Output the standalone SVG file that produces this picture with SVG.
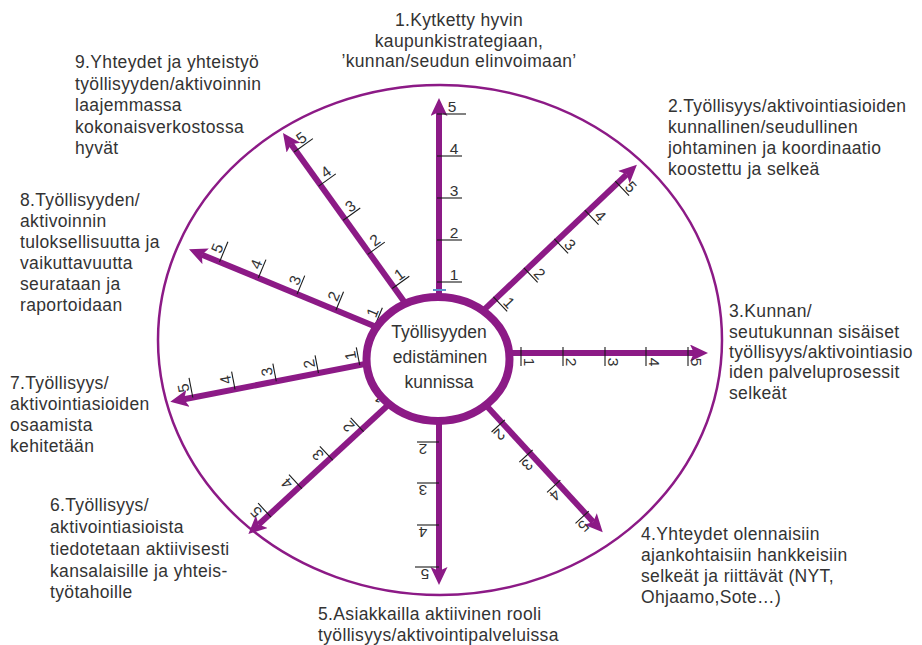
<svg xmlns="http://www.w3.org/2000/svg" width="922" height="645" viewBox="0 0 922 645">
<style>
.sp{stroke:#8C1A86;stroke-width:6;fill:none}
.tk line{stroke:#1a1a1a;stroke-width:1.1}
.num{font-family:"Liberation Sans",Arial,sans-serif;font-size:15.5px;fill:#333;text-anchor:middle}
.lbl{font-family:"Liberation Sans",Arial,sans-serif;font-size:17.5px;letter-spacing:0.35px;fill:#333}
.ctr{font-family:"Liberation Sans",Arial,sans-serif;font-size:17.5px;fill:#333;text-anchor:middle}
</style>
<defs>
<marker id="ah" markerWidth="20" markerHeight="18" refX="4" refY="8.5" orient="auto" markerUnits="userSpaceOnUse">
<path d="M0,0 L18,8.5 L0,17 L4,8.5 Z" fill="#8C1A86"/>
</marker>
</defs>
<rect width="922" height="645" fill="#fff"/>
<g id="outer"><ellipse cx="440" cy="340" rx="282" ry="255" fill="none" stroke="#8C1A86" stroke-width="2.5"/></g>
<g id="connectors">
<g id="spoke1" transform="translate(438,359) rotate(0) translate(1,0)">
<line class="sp" x1="0" y1="0" x2="0" y2="-247" marker-end="url(#ah)"/>
<g class="tk"><line x1="-2" y1="-77" x2="23" y2="-77"/><line x1="-2" y1="-119" x2="23" y2="-119"/><line x1="-2" y1="-161" x2="23" y2="-161"/><line x1="-2" y1="-203" x2="23" y2="-203"/><line x1="-2" y1="-245" x2="27" y2="-245"/></g>
<g class="num"><text x="15" y="-79">1</text><text x="15" y="-121">2</text><text x="15" y="-163">3</text><text x="15" y="-205">4</text><text x="13" y="-247">5</text></g>
</g>
<g id="spoke2" transform="translate(438,359) rotate(46.5) translate(-4,0)">
<line class="sp" x1="0" y1="0" x2="0" y2="-264" marker-end="url(#ah)"/>
<g class="tk"><line x1="-3" y1="-83" x2="17" y2="-83"/><line x1="-3" y1="-125" x2="17" y2="-125"/><line x1="-3" y1="-167" x2="17" y2="-167"/><line x1="-3" y1="-209" x2="17" y2="-209"/><line x1="-3" y1="-251" x2="17" y2="-251"/></g>
<g class="num"><text x="12" y="-85">1</text><text x="12" y="-127">2</text><text x="12" y="-169">3</text><text x="12" y="-211">4</text><text x="12" y="-253">5</text></g>
</g>
<g id="spoke3" transform="translate(438,359) rotate(90) translate(-6,0)">
<line class="sp" x1="0" y1="0" x2="0" y2="-256" marker-end="url(#ah)"/>
<g class="tk"><line x1="-6" y1="-83" x2="13" y2="-83"/><line x1="-6" y1="-125" x2="13" y2="-125"/><line x1="-6" y1="-167" x2="13" y2="-167"/><line x1="-6" y1="-208" x2="13" y2="-208"/><line x1="-6" y1="-250" x2="13" y2="-250"/></g>
<g class="num"><text x="9" y="-86">1</text><text x="9" y="-128">2</text><text x="9" y="-170">3</text><text x="9" y="-211">4</text><text x="9" y="-253">5</text></g>
</g>
<g id="spoke4" transform="translate(438,359) rotate(137.4) translate(-4,0)">
<line class="sp" x1="0" y1="0" x2="0" y2="-225" marker-end="url(#ah)"/>
<g class="tk"><line x1="-4" y1="-90" x2="14" y2="-90"/><line x1="-4" y1="-131" x2="14" y2="-131"/><line x1="-4" y1="-172" x2="14" y2="-172"/><line x1="-4" y1="-214" x2="14" y2="-214"/></g>
<g class="num"><text x="10" y="-92">2</text><text x="10" y="-133">3</text><text x="10" y="-174">4</text><text x="10" y="-216">5</text></g>
</g>
<g id="spoke5" transform="translate(438,359) rotate(180) translate(-1,0)">
<line class="sp" x1="0" y1="0" x2="0" y2="-212" marker-end="url(#ah)"/>
<g class="tk"><line x1="0" y1="-83" x2="22" y2="-83"/><line x1="0" y1="-124" x2="22" y2="-124"/><line x1="0" y1="-166" x2="22" y2="-166"/><line x1="0" y1="-208" x2="24" y2="-208"/></g>
<g class="num"><text x="16" y="-85">2</text><text x="16" y="-126">3</text><text x="16" y="-168">4</text><text x="14" y="-210">5</text></g>
</g>
<g id="spoke6" transform="translate(438,359) rotate(227.3)">
<line class="sp" x1="0" y1="0" x2="0" y2="-244" marker-end="url(#ah)"/>
<g class="tk"><line x1="-3" y1="-62" x2="16" y2="-62"/><line x1="-3" y1="-104" x2="16" y2="-104"/><line x1="-3" y1="-146" x2="16" y2="-146"/><line x1="-3" y1="-188" x2="16" y2="-188"/><line x1="-3" y1="-230" x2="16" y2="-230"/></g>
<g class="num"><text x="11" y="-64">1</text><text x="11" y="-106">2</text><text x="11" y="-148">3</text><text x="11" y="-190">4</text><text x="11" y="-232">5</text></g>
</g>
<g id="spoke7" transform="translate(438,359) rotate(259) translate(9,0)">
<line class="sp" x1="0" y1="0" x2="0" y2="-257" marker-end="url(#ah)"/>
<g class="tk"><line x1="0" y1="-78" x2="18" y2="-78"/><line x1="0" y1="-120" x2="18" y2="-120"/><line x1="0" y1="-163" x2="18" y2="-163"/><line x1="0" y1="-205" x2="18" y2="-205"/><line x1="0" y1="-248" x2="20" y2="-248"/></g>
<g class="num"><text x="11" y="-80">1</text><text x="11" y="-122">2</text><text x="11" y="-165">3</text><text x="11" y="-207">4</text><text x="11" y="-250">5</text></g>
</g>
<g id="spoke8" transform="translate(438,359) rotate(292.5) translate(6,0)">
<line class="sp" x1="0" y1="0" x2="0" y2="-258" marker-end="url(#ah)"/>
<g class="tk"><line x1="0" y1="-71" x2="20" y2="-71"/><line x1="0" y1="-113" x2="20" y2="-113"/><line x1="0" y1="-155" x2="20" y2="-155"/><line x1="0" y1="-197" x2="20" y2="-197"/><line x1="0" y1="-239" x2="22" y2="-239"/></g>
<g class="num"><text x="12" y="-73">1</text><text x="12" y="-115">2</text><text x="12" y="-157">3</text><text x="12" y="-199">4</text><text x="12" y="-241">5</text></g>
</g>
<g id="spoke9" transform="translate(438,359) rotate(324.3) translate(6,0)">
<line class="sp" x1="0" y1="0" x2="0" y2="-260" marker-end="url(#ah)"/>
<g class="tk"><line x1="-2" y1="-84" x2="19" y2="-84"/><line x1="-2" y1="-126" x2="19" y2="-126"/><line x1="-2" y1="-168" x2="19" y2="-168"/><line x1="-2" y1="-210" x2="19" y2="-210"/><line x1="-2" y1="-252" x2="21" y2="-252"/></g>
<g class="num"><text x="12" y="-86">1</text><text x="12" y="-128">2</text><text x="12" y="-170">3</text><text x="12" y="-212">4</text><text x="12" y="-254">5</text></g>
</g>
</g>
<g id="center">
<ellipse cx="438" cy="359" rx="71.5" ry="62" fill="#fff" stroke="#8C1A86" stroke-width="8"/>
<text class="ctr" x="439" y="338">Työllisyyden</text>
<text class="ctr" x="440" y="363">edistäminen</text>
<text class="ctr" x="439" y="388">kunnissa</text>
</g>
<g id="mark"><line x1="433" y1="290" x2="446" y2="290" stroke="#5B8FC9" stroke-width="2"/></g>
<g id="label1"><text class="lbl" text-anchor="middle"><tspan x="459" y="26">1.Kytketty hyvin</tspan><tspan x="459" y="47">kaupunkistrategiaan,</tspan><tspan x="459" y="67">’kunnan/seudun elinvoimaan’</tspan></text></g>
<g id="label2"><text class="lbl"><tspan x="668" y="112">2.Työllisyys/aktivointiasioiden</tspan><tspan x="668" y="133">kunnallinen/seudullinen</tspan><tspan x="668" y="154">johtaminen ja koordinaatio</tspan><tspan x="668" y="175">koostettu ja selkeä</tspan></text></g>
<g id="label3"><text class="lbl"><tspan x="729" y="317">3.Kunnan/</tspan><tspan x="729" y="338">seutukunnan sisäiset</tspan><tspan x="729" y="358">työllisyys/aktivointiasio</tspan><tspan x="729" y="378">iden palveluprosessit</tspan><tspan x="729" y="399">selkeät</tspan></text></g>
<g id="label4"><text class="lbl"><tspan x="641" y="540">4.Yhteydet olennaisiin</tspan><tspan x="641" y="561">ajankohtaisiin hankkeisiin</tspan><tspan x="641" y="582">selkeät ja riittävät (NYT,</tspan><tspan x="641" y="603">Ohjaamo,Sote…)</tspan></text></g>
<g id="label5"><text class="lbl"><tspan x="318" y="620">5.Asiakkailla aktiivinen rooli</tspan><tspan x="318" y="641">työllisyys/aktivointipalveluissa</tspan></text></g>
<g id="label6"><text class="lbl"><tspan x="50" y="511">6.Työllisyys/</tspan><tspan x="50" y="533">aktivointiasioista</tspan><tspan x="50" y="555">tiedotetaan aktiivisesti</tspan><tspan x="50" y="577">kansalaisille ja yhteis-</tspan><tspan x="50" y="598">työtahoille</tspan></text></g>
<g id="label7"><text class="lbl"><tspan x="10" y="389">7.Työllisyys/</tspan><tspan x="10" y="410">aktivointiasioiden</tspan><tspan x="10" y="431">osaamista</tspan><tspan x="10" y="452">kehitetään</tspan></text></g>
<g id="label8"><text class="lbl"><tspan x="20" y="206">8.Työllisyyden/</tspan><tspan x="20" y="227">aktivoinnin</tspan><tspan x="20" y="248">tuloksellisuutta ja</tspan><tspan x="20" y="269">vaikuttavuutta</tspan><tspan x="20" y="290">seurataan ja</tspan><tspan x="20" y="311">raportoidaan</tspan></text></g>
<g id="label9"><text class="lbl"><tspan x="75" y="68">9.Yhteydet ja yhteistyö</tspan><tspan x="75" y="90">työllisyyden/aktivoinnin</tspan><tspan x="75" y="111">laajemmassa</tspan><tspan x="75" y="133">kokonaisverkostossa</tspan><tspan x="75" y="154">hyvät</tspan></text></g>
</svg>
